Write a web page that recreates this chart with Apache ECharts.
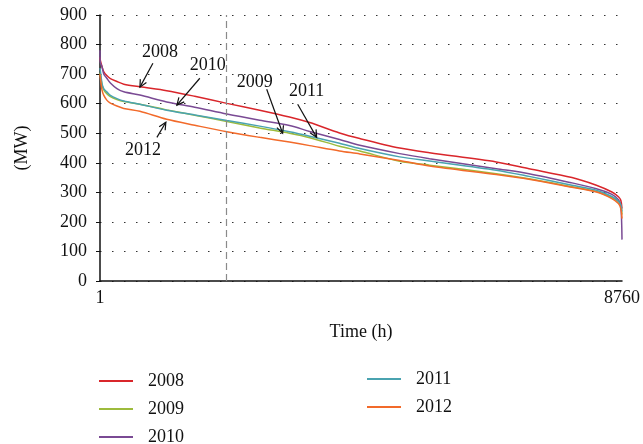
<!DOCTYPE html>
<html><head><meta charset="utf-8">
<script src="https://cdn.jsdelivr.net/npm/echarts@6/dist/echarts.min.js"></script>
<style>html,body{margin:0;padding:0;background:#fff}#c{width:643px;height:444px}</style>
</head><body><div id="c"></div>
<script>
const hours = [1, 6, 35, 65, 115, 175, 285, 400, 670, 1120, 1590, 2130, 2680, 3180, 3520, 4020, 4360, 5030, 5530, 6650, 7200, 7920, 8330, 8590, 8700, 8740, 8760];
const y2008 = [757, 747, 725, 708, 695, 685, 675, 666, 657, 644, 625, 601, 578, 555, 536, 501, 482, 450, 434, 403, 380, 350, 324, 301, 285, 273, 245];
const y2009 = [705, 700, 664, 647, 634, 624, 614, 607, 598, 579, 561, 540, 518, 500, 485, 456, 440, 405, 392, 363, 346, 319, 303, 282, 268, 255, 225];
const y2010 = [781, 740, 725, 700, 686, 670, 651, 640, 629, 606, 588, 565, 544, 526, 506, 479, 459, 431, 414, 380, 363, 332, 312, 293, 275, 255, 140];
const y2011 = [720, 714, 668, 650, 640, 628, 617, 609, 598, 578, 562, 543, 524, 505, 490, 466, 448, 420, 406, 375, 354, 324, 307, 286, 270, 258, 235];
const y2012 = [700, 690, 646, 628, 612, 602, 592, 584, 574, 547, 527, 505, 486, 470, 458, 440, 430, 408, 389, 360, 344, 317, 301, 279, 262, 245, 211];
const seriesNames = ['2008', '2009', '2010', '2011', '2012'];
const xTickLabels = [1, 8760];
const markerHour = 2120;
// annotations: label, label position, arrow start, arrow end (data coords)
const annoLabels = ['2008', '2010', '2009', '2011', '2012'];
const annoText = [[1006, 775], [1810, 731], [2597, 673], [3468, 642], [721, 442]];
const annoFrom = [[889, 737], [1676, 686], [2798, 649], [3318, 598], [956, 486]];
const annoTo = [[671, 656], [1291, 595], [3066, 500], [3636, 486], [1106, 537]];

const colors = ['#d9262b', '#9dbb3c', '#7a4a94', '#4aa3b0', '#f26a2a'];
const values = [y2008, y2009, y2010, y2011, y2012];
const FONT = 'Liberation Serif';
const FS = 18;

const chart = echarts.init(document.getElementById('c'), null, {renderer: 'canvas'});
const series = seriesNames.map((n, k) => ({
  name: n, type: 'line', showSymbol: false, symbol: 'none',
  smooth: 0.3,
  lineStyle: {width: 1.5, color: colors[k]}, itemStyle: {color: colors[k]},
  data: hours.map((h, i) => [h, values[k][i]]),
  z: 3
}));
series[0].markLine = {
  silent: true, symbol: ['none', 'none'], label: {show: false},
  lineStyle: {type: [7, 4], color: '#8a8a8a', width: 1.2},
  data: [{xAxis: markerHour}]
};
const legendBase = {
  orient: 'vertical', icon: 'rect', itemWidth: 34, itemHeight: 2, itemGap: 10,
  padding: 0, height: 80,
  textStyle: {fontFamily: FONT, fontSize: FS, color: '#111', lineHeight: 16, padding: [0, 0, 0, 10]},
  selectedMode: false
};
chart.setOption({
  animation: false,
  color: colors,
  grid: {left: 100, right: 20, top: 15, bottom: 163},
  legend: [
    Object.assign({}, legendBase, {data: ['2008', '2009', '2010'], left: 99, top: 372}),
    Object.assign({}, legendBase, {data: ['2011', '2012'], left: 367, top: 370})
  ],
  xAxis: {
    type: 'value', min: 1, max: 8760,
    name: 'Time (h)', nameLocation: 'middle', nameGap: 42,
    nameTextStyle: {fontFamily: FONT, fontSize: FS, color: '#111'},
    axisLine: {show: true, lineStyle: {color: '#111', width: 1.5}},
    axisTick: {show: false},
    splitLine: {show: false},
    axisLabel: {customValues: xTickLabels, fontFamily: FONT, fontSize: FS, color: '#111', margin: 8,
      formatter: v => String(v)}
  },
  yAxis: {
    type: 'value', min: 0, max: 900, interval: 100,
    name: '(MW)', nameLocation: 'middle', nameGap: 69, nameRotate: 90,
    nameTextStyle: {fontFamily: FONT, fontSize: FS, color: '#111'},
    axisLine: {show: true, lineStyle: {color: '#111', width: 1.5}},
    axisTick: {show: true, length: 4, lineStyle: {color: '#111'}},
    axisLabel: {fontFamily: FONT, fontSize: FS, color: '#111', margin: 13},
    splitLine: {show: true, lineStyle: {type: [1.5, 10.5], color: '#333', width: 1.2}}
  },
  series: series
});

const gr = [];
annoLabels.forEach((lab, i) => {
  const t = chart.convertToPixel({gridIndex: 0}, annoText[i]);
  const a = chart.convertToPixel({gridIndex: 0}, annoFrom[i]);
  const b = chart.convertToPixel({gridIndex: 0}, annoTo[i]);
  gr.push({type: 'text', x: t[0], y: t[1], z: 10,
    style: {text: lab, font: FS + 'px "' + FONT + '"', fill: '#111', align: 'center', verticalAlign: 'middle'}});
  gr.push({type: 'line', z: 10, shape: {x1: a[0], y1: a[1], x2: b[0], y2: b[1]}, style: {stroke: '#111', lineWidth: 1.2}});
  const ang = Math.atan2(b[1] - a[1], b[0] - a[0]);
  const L = 8, s = 0.45;
  gr.push({type: 'polyline', z: 10, shape: {points: [
    [b[0] - L * Math.cos(ang - s), b[1] - L * Math.sin(ang - s)],
    [b[0], b[1]],
    [b[0] - L * Math.cos(ang + s), b[1] - L * Math.sin(ang + s)]
  ]}, style: {stroke: '#111', lineWidth: 1.2, fill: null}});
});
chart.setOption({graphic: gr});
</script>
</body></html>
